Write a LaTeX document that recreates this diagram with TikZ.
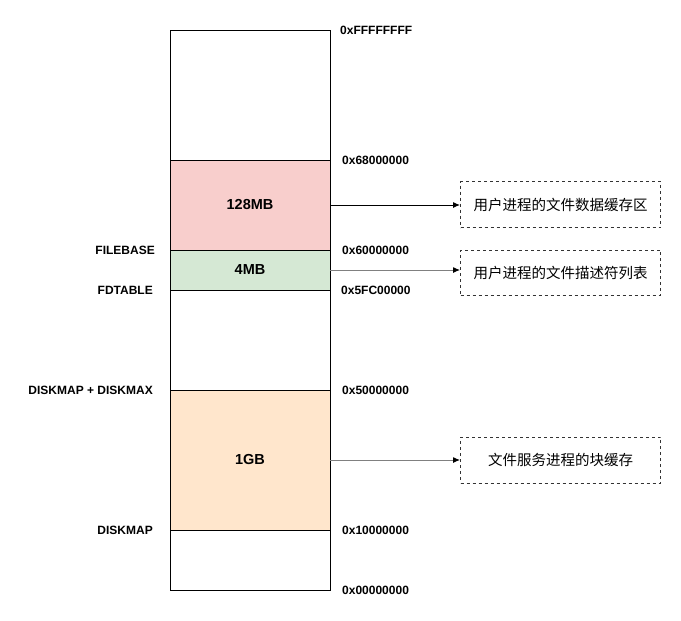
\documentclass[tikz,border=0pt]{standalone}
\usepackage{fontspec}
\setmainfont{Liberation Sans}
\newfontfamily\cjk{Noto Sans CJK SC}
\usetikzlibrary{positioning,arrows.meta}
\definecolor{pinkfill}{HTML}{F8CECC}
\definecolor{greenfill}{HTML}{D5E8D4}
\definecolor{orangefill}{HTML}{FFE6CC}
\definecolor{notegray}{HTML}{333333}
\tikzset{>={Latex[length=7pt,width=6pt]}}
\tikzset{
  region/.style={draw, line width=1pt, minimum width=160pt, inner sep=0pt, outer sep=0pt,
    font=\fontsize{14.5}{17}\selectfont\bfseries},
  addr/.style={font=\fontsize{12}{14}\selectfont\bfseries, inner sep=0pt},
  note/.style={draw=notegray, dashed, line width=1pt, minimum width=200pt, inner sep=0pt,
    font=\cjk\fontsize{14.5}{18}\selectfont},
}
\begin{document}
\begin{tikzpicture}[x=1pt,y=1pt]
  \useasboundingbox (0,0) rectangle (681,-621);

  % Nodes
  \node[region, minimum height=130pt]                      (top)    at (250,-95) {};
  \node[region, minimum height=90pt, fill=pinkfill, below=0pt of top]      (buffer) {128MB};
  \node[region, minimum height=40pt, fill=greenfill, below=0pt of buffer]  (fdtab)  {4MB};
  \node[region, minimum height=100pt, below=0pt of fdtab]                  (gap)    {};
  \node[region, minimum height=140pt, fill=orangefill, below=0pt of gap]   (disk)   {1GB};
  \node[region, minimum height=60pt, below=0pt of disk]                    (low)    {};

  % Addresses
  \node[addr, right=10pt of top.north east]    (aFFFF) {0xFFFFFFFF};
  \node[addr, right=12pt of buffer.north east] (a6800) {0x68000000};
  \node[addr, right=12pt of fdtab.north east]  (a6000) {0x60000000};
  \node[addr, right=11pt of gap.north east]    (a5FC0) {0x5FC00000};
  \node[addr, right=12pt of disk.north east]   (a5000) {0x50000000};
  \node[addr, right=12pt of low.north east]    (a1000) {0x10000000};
  \node[addr, right=12pt of low.south east]    (a0000) {0x00000000};

  % Symbols
  \node[addr, left=15pt of fdtab.north west]  (filebase) {FILEBASE};
  \node[addr, left=17pt of gap.north west]    (fdtable)  {FDTABLE};
  \node[addr, left=17pt of disk.north west]   (diskmax)  {DISKMAP + DISKMAX};
  \node[addr, left=17pt of low.north west]    (diskmap)  {DISKMAP};

  % Notes
  \node[note, minimum height=46pt, right=130pt of buffer, yshift=0.5pt] (databuf) {用户进程的文件数据缓存区};
  \node[note, minimum height=45pt, right=130pt of fdtab, yshift=-2.5pt] (fdlist)  {用户进程的文件描述符列表};
  \node[note, minimum height=46pt, right=130pt of disk]                 (blkbuf)  {文件服务进程的块缓存};

  % Edges
  \draw[->, line width=1pt] (buffer.east) -- (buffer.east -| databuf.west);
  \draw[-{Latex[length=7pt,width=6pt,black]}, line width=1pt, gray] (fdtab.east) -- (fdtab.east -| fdlist.west);
  \draw[-{Latex[length=7pt,width=6pt,black]}, line width=1pt, gray] (disk.east) -- (blkbuf.west);
\end{tikzpicture}
\end{document}
